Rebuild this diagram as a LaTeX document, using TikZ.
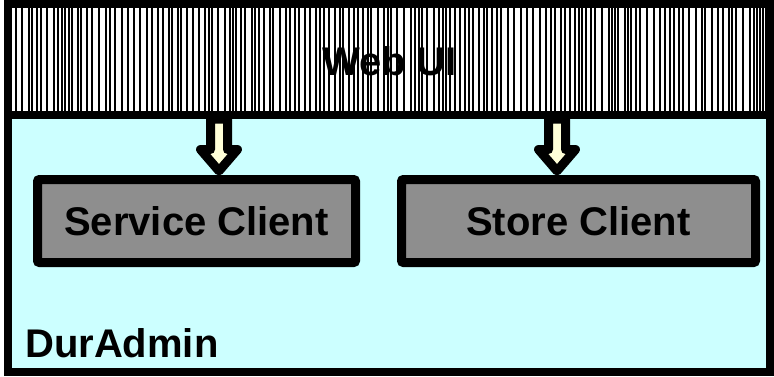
\documentclass[tikz,border=0pt]{standalone}
\usepackage{fontspec}
\setmainfont{Liberation Sans}
\definecolor{durcyan}{HTML}{CCFFFF}
\definecolor{boxgray}{HTML}{8E8E8E}
\definecolor{arrowcream}{HTML}{FFFFD8}
\tikzset{
  framebox/.style={draw=black, line width=8pt, fill=durcyan, minimum width=762.5pt, minimum height=368pt, inner sep=0pt, outer sep=0pt},
  clientbox/.style={draw=black, line width=9pt, fill=boxgray, rounded corners=2pt, inner sep=0pt, font=\bfseries\fontsize{40}{48}\selectfont},
  bigtext/.style={font=\bfseries\fontsize{40}{48}\selectfont, inner sep=0pt},
  arrowstyle/.style={draw=black, fill=arrowcream, line width=9pt, line join=round},
  bigarrow/.pic={\path[arrowstyle] (-8.5,-56) -- (-8.5,-25.5) -- (-18.5,-25.5) -- (0,-4) -- (18.5,-25.5) -- (8.5,-25.5) -- (8.5,-56) -- cycle;}
}
\begin{document}
\begin{tikzpicture}[x=1pt,y=-1pt]
\useasboundingbox (0,0) rectangle (774,376);
% outer DurAdmin frame
\node[framebox] (dur) at (388.75,188) {};
% Web UI band
\node[fill=white, minimum width=754.5pt, minimum height=107pt, inner sep=0pt, outer sep=0pt] (web) at (388.75,61.5) {};
\begin{scope}
  \clip (web.north west) rectangle (web.south east);
  \pgfmathsetseed{11}
  \xdef\hx{12}
  \foreach \i in {1,...,240}{
    \pgfmathparse{\hx+3+random(0,4)}
    \xdef\hx{\pgfmathresult}
    \draw[line width=1.4pt] (\hx,0) -- (\hx,130);
  }
\end{scope}
\node[bigtext] (weblbl) at (389.5,61) {Web UI};
% client boxes
\node[clientbox, minimum width=318pt, minimum height=83pt] (svc) at (196.5,221) {Service Client};
\node[clientbox, minimum width=354pt, minimum height=83pt] (store) at (578.5,221) {Store Client};
% arrows from Web UI to clients
\coordinate (ax1) at (219,0);
\coordinate (ax2) at (557,0);
\pic at (svc.north -| ax1) {bigarrow};
\pic at (store.north -| ax2) {bigarrow};
% separator between Web UI and DurAdmin
\draw[line width=8pt] (web.south west) -- (web.south east);
% redraw outer border on top
\draw[line width=8pt] (dur.north west) rectangle (dur.south east);
% label
\node[bigtext, anchor=base west] (durlbl) at (25,357) {DurAdmin};
\end{tikzpicture}
\end{document}
